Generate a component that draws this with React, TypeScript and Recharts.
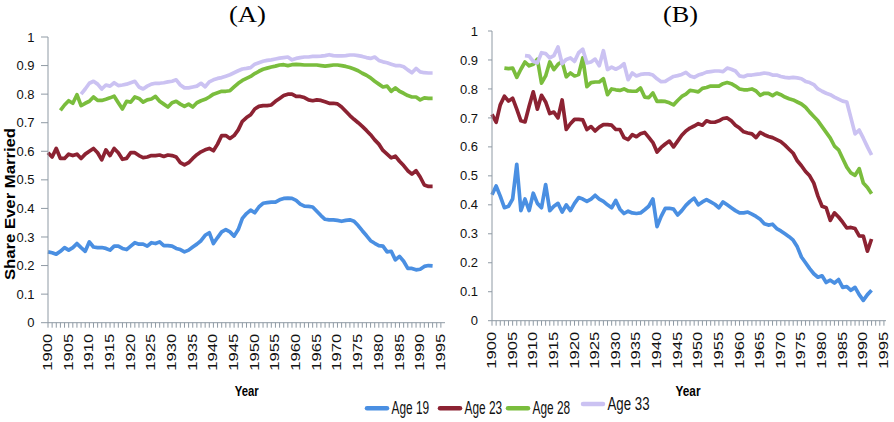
import { LineChart, Line, XAxis, YAxis } from "recharts";

// Cohort years (categories) – panel A runs to 1993, panel B to 1992
const YEARS_A = Array.from({ length: 94 }, (_, i) => 1900 + i);
const YEARS_B = Array.from({ length: 93 }, (_, i) => 1900 + i);

const X_TICKS = Array.from({ length: 96 }, (_, i) => 1900 + i);
const Y_TICKS = [0, 0.1, 0.2, 0.3, 0.4, 0.5, 0.6, 0.7, 0.8, 0.9, 1];

// Panel (A)
const A_AGE19 = [
  0.248, 0.245, 0.24, 0.25, 0.263, 0.254, 0.263, 0.277, 0.263, 0.25,
  0.283, 0.265, 0.263, 0.263, 0.26, 0.254, 0.268, 0.268, 0.26, 0.256,
  0.268, 0.28, 0.275, 0.275, 0.268, 0.28, 0.277, 0.283, 0.27, 0.27,
  0.268, 0.26, 0.256, 0.248, 0.254, 0.265, 0.275, 0.287, 0.306, 0.315,
  0.277, 0.298, 0.318, 0.326, 0.318, 0.303, 0.326, 0.365, 0.382, 0.394,
  0.385, 0.405, 0.418, 0.42, 0.422, 0.422, 0.43, 0.435, 0.436, 0.435,
  0.428, 0.415, 0.408, 0.407, 0.405, 0.39, 0.375, 0.362, 0.36, 0.36,
  0.358, 0.355, 0.358, 0.36, 0.355, 0.34, 0.322, 0.305, 0.287, 0.278,
  0.27, 0.268, 0.248, 0.25, 0.22, 0.232, 0.215, 0.19, 0.19, 0.185,
  0.187, 0.197, 0.2, 0.199,
];
const A_AGE23 = [
  0.595, 0.58, 0.61, 0.575, 0.575, 0.59, 0.585, 0.59, 0.575, 0.59,
  0.6, 0.61, 0.595, 0.57, 0.605, 0.585, 0.61, 0.595, 0.572, 0.575,
  0.595, 0.595, 0.585, 0.578, 0.58, 0.585, 0.585, 0.587, 0.582, 0.587,
  0.585, 0.58, 0.56, 0.552, 0.56, 0.575, 0.588, 0.598, 0.605, 0.61,
  0.602, 0.625, 0.655, 0.655, 0.645, 0.655, 0.675, 0.705, 0.718, 0.728,
  0.748, 0.757, 0.76, 0.76, 0.762, 0.775, 0.785, 0.795, 0.8, 0.8,
  0.792, 0.792, 0.788, 0.78, 0.777, 0.78, 0.778, 0.773, 0.768, 0.768,
  0.766, 0.755, 0.74, 0.725, 0.712, 0.7, 0.687, 0.673, 0.658, 0.64,
  0.625, 0.603, 0.59, 0.577, 0.583, 0.565, 0.55, 0.532, 0.52, 0.532,
  0.51, 0.482, 0.477, 0.477,
];
const A_AGE28 = [
  null, null, null, 0.743, 0.762, 0.777, 0.768, 0.798, 0.76, 0.768,
  0.775, 0.79, 0.778, 0.778, 0.782, 0.787, 0.793, 0.77, 0.748, 0.775,
  0.772, 0.79, 0.785, 0.772, 0.78, 0.783, 0.792, 0.775, 0.765, 0.755,
  0.77, 0.775, 0.765, 0.757, 0.765, 0.755, 0.77, 0.777, 0.782, 0.79,
  0.8, 0.805, 0.81, 0.81, 0.812, 0.825, 0.838, 0.848, 0.855, 0.862,
  0.872, 0.88, 0.887, 0.891, 0.895, 0.898, 0.902, 0.903, 0.9, 0.903,
  0.904, 0.903, 0.902, 0.902, 0.902, 0.902, 0.9, 0.898, 0.9, 0.902,
  0.902, 0.9, 0.897, 0.893, 0.888, 0.882, 0.873, 0.866, 0.857, 0.845,
  0.835, 0.825, 0.828, 0.81, 0.822, 0.81, 0.803, 0.795, 0.79, 0.79,
  0.78, 0.787, 0.785, 0.785,
];
const A_AGE33 = [
  null, null, null, null, null, null, null, null, 0.8, 0.818,
  0.838, 0.845, 0.835, 0.818, 0.832, 0.828, 0.84, 0.83, 0.832, 0.835,
  0.84, 0.845, 0.825, 0.818, 0.828, 0.835, 0.838, 0.838, 0.84, 0.843,
  0.845, 0.85, 0.832, 0.822, 0.822, 0.825, 0.828, 0.838, 0.826, 0.843,
  0.85, 0.855, 0.858, 0.863, 0.868, 0.875, 0.882, 0.888, 0.89, 0.893,
  0.905, 0.91, 0.915, 0.918, 0.92, 0.923, 0.926, 0.928, 0.93, 0.92,
  0.925, 0.928, 0.93, 0.93, 0.932, 0.932, 0.933, 0.935, 0.938, 0.935,
  0.934, 0.934, 0.935, 0.937, 0.937, 0.935, 0.932, 0.928, 0.925, 0.93,
  0.918, 0.913, 0.91, 0.905, 0.9, 0.9, 0.896, 0.885, 0.875, 0.89,
  0.878, 0.875, 0.874, 0.874,
];

// Panel (B)
const B_AGE19 = [
  0.435, 0.465, 0.43, 0.39, 0.395, 0.42, 0.54, 0.38, 0.42, 0.38,
  0.44, 0.405, 0.39, 0.47, 0.38, 0.395, 0.405, 0.375, 0.4, 0.38,
  0.405, 0.425, 0.42, 0.412, 0.42, 0.433, 0.42, 0.412, 0.4, 0.39,
  0.415, 0.385, 0.37, 0.378, 0.372, 0.37, 0.372, 0.383, 0.395, 0.42,
  0.325, 0.36, 0.388, 0.388, 0.385, 0.365, 0.38, 0.398, 0.412, 0.423,
  0.4, 0.41, 0.418, 0.41, 0.402, 0.39, 0.41, 0.4, 0.39, 0.38,
  0.372, 0.372, 0.375, 0.368, 0.36, 0.35, 0.335, 0.33, 0.333, 0.318,
  0.31, 0.3, 0.29, 0.278, 0.255, 0.22, 0.2, 0.18, 0.162, 0.15,
  0.155, 0.132, 0.14, 0.13, 0.142, 0.115, 0.118, 0.105, 0.115, 0.09,
  0.07, 0.09, 0.105,
];
const B_AGE23 = [
  0.712, 0.685, 0.745, 0.775, 0.758, 0.768, 0.73, 0.69, 0.686, 0.74,
  0.79, 0.73, 0.778, 0.755, 0.715, 0.72, 0.7, 0.762, 0.66, 0.68,
  0.695, 0.695, 0.693, 0.66, 0.67, 0.655, 0.668, 0.677, 0.677, 0.675,
  0.66, 0.66, 0.632, 0.625, 0.642, 0.635, 0.645, 0.65, 0.633, 0.615,
  0.582, 0.598, 0.61, 0.62, 0.6, 0.62, 0.64, 0.655, 0.665, 0.672,
  0.68, 0.675, 0.69, 0.685, 0.685, 0.69, 0.698, 0.7, 0.69, 0.675,
  0.665, 0.652, 0.648, 0.645, 0.632, 0.65, 0.642, 0.636, 0.632, 0.625,
  0.618, 0.606, 0.592, 0.578, 0.552, 0.535, 0.515, 0.5, 0.475, 0.43,
  0.395, 0.39, 0.346, 0.372, 0.358, 0.34, 0.32, 0.322, 0.318, 0.293,
  0.292, 0.24, 0.282,
];
const B_AGE28 = [
  null, null, null, 0.872, 0.87, 0.872, 0.84, 0.868, 0.893, 0.88,
  0.885, 0.903, 0.82, 0.845, 0.893, 0.867, 0.885, 0.895, 0.842, 0.855,
  0.845, 0.85, 0.907, 0.808, 0.822, 0.824, 0.824, 0.835, 0.78, 0.8,
  0.797, 0.795, 0.8, 0.793, 0.792, 0.792, 0.803, 0.772, 0.77, 0.786,
  0.757, 0.758, 0.757, 0.752, 0.745, 0.76, 0.774, 0.782, 0.795, 0.793,
  0.79, 0.802, 0.805, 0.81, 0.81, 0.81, 0.818, 0.822, 0.818, 0.81,
  0.8, 0.797, 0.797, 0.8, 0.793, 0.778, 0.785, 0.785, 0.777, 0.786,
  0.78, 0.772, 0.766, 0.762, 0.755, 0.748, 0.737, 0.72, 0.705, 0.69,
  0.67, 0.65, 0.63, 0.603, 0.59, 0.56, 0.53, 0.51, 0.502, 0.525,
  0.475, 0.46, 0.438,
];
const B_AGE33 = [
  null, null, null, null, null, null, null, null, 0.915, 0.913,
  0.895, 0.89, 0.925, 0.922, 0.907, 0.915, 0.945, 0.887, 0.902, 0.907,
  0.895, 0.925, 0.937, 0.89, 0.893, 0.903, 0.88, 0.932, 0.867, 0.875,
  0.868, 0.875, 0.887, 0.832, 0.855, 0.845, 0.85, 0.852, 0.852, 0.848,
  0.835, 0.825, 0.826, 0.835, 0.843, 0.846, 0.85, 0.857, 0.845, 0.84,
  0.848, 0.852, 0.858, 0.86, 0.862, 0.862, 0.86, 0.872, 0.868, 0.862,
  0.845, 0.842, 0.848, 0.848, 0.85, 0.852, 0.855, 0.853, 0.848, 0.848,
  0.843, 0.84, 0.838, 0.84, 0.838, 0.835, 0.826, 0.822, 0.815, 0.8,
  0.792, 0.785, 0.78, 0.772, 0.765, 0.758, 0.755, 0.7, 0.645, 0.658,
  0.63, 0.6, 0.572,
];

const SERIES = [
  { key: "age19", name: "Age 19", color: "#4a8fe2" },
  { key: "age23", name: "Age 23", color: "#8c2232" },
  { key: "age28", name: "Age 28", color: "#7abd3d" },
  { key: "age33", name: "Age 33", color: "#cbc2f2" },
];

const SANS = "'Liberation Sans', Arial, sans-serif";
const AXIS_GREY = "#8f9aa4";

function buildRows(years: number[], cols: (number | null)[][]) {
  return years.map((year, i) => ({
    year,
    age19: cols[0][i],
    age23: cols[1][i],
    age28: cols[2][i],
    age33: cols[3][i],
  }));
}

const DATA_A = buildRows(YEARS_A, [A_AGE19, A_AGE23, A_AGE28, A_AGE33]);
const DATA_B = buildRows(YEARS_B, [B_AGE19, B_AGE23, B_AGE28, B_AGE33]);

// every year gets a tick mark, only the 5-year ones get a (vertical) label
function YearTick(props: any) {
  const { x, y, payload } = props;
  if (payload.value % 5 !== 0) return <g />;
  return (
    <text
      x={0}
      y={0}
      transform={`translate(${x},${y + 4}) rotate(-90)`}
      textAnchor="end"
      dominantBaseline="central"
      fontSize={12}
      fontFamily={SANS}
      fill="#111"
      textLength={37}
      lengthAdjust="spacingAndGlyphs"
    >
      {payload.value}
    </text>
  );
}

function Panel({ data, domainMax, yWidth, yTickSize, yTickMargin, width, margin }: any) {
  return (
    <LineChart width={width} height={380} data={data} margin={margin}>
      <XAxis
        type="number"
        dataKey="year"
        domain={[1900, domainMax]}
        ticks={X_TICKS}
        interval={0}
        tick={<YearTick />}
        tickSize={5}
        tickMargin={2}
        height={50}
        stroke={AXIS_GREY}
        tickLine={{ stroke: AXIS_GREY }}
      />
      <YAxis
        type="number"
        domain={[0, 1]}
        ticks={Y_TICKS}
        interval={0}
        width={yWidth}
        tickSize={yTickSize}
        tickMargin={yTickMargin}
        tickFormatter={(v: number) => String(v)}
        tick={{ fontSize: 13, fill: "#111", fontFamily: SANS }}
        stroke={AXIS_GREY}
        tickLine={{ stroke: AXIS_GREY }}
      />
      {SERIES.map((s) => (
        <Line
          key={s.key}
          type="linear"
          dataKey={s.key}
          name={s.name}
          stroke={s.color}
          strokeWidth={3.7}
          strokeLinejoin="round"
          dot={false}
          activeDot={false}
          isAnimationActive={false}
        />
      ))}
    </LineChart>
  );
}

export default function App() {
  const legendX = [367, 440, 508, 583];
  return (
    <div
      style={{
        position: "absolute",
        left: 0,
        top: 0,
        width: 894,
        height: 422,
        background: "#fff",
        overflow: "hidden",
      }}
    >
      <div style={{ position: "absolute", left: 0, top: 0 }}>
        <Panel
          data={DATA_A}
          domainMax={1996}
          width={460}
          yWidth={48}
          yTickSize={7}
          yTickMargin={6.5}
          margin={{ top: 37, right: 15, bottom: 7.3, left: 0 }}
        />
      </div>
      <div style={{ position: "absolute", left: 440, top: 0 }}>
        <Panel
          data={DATA_B}
          domainMax={1995.5}
          width={454}
          yWidth={52}
          yTickSize={4}
          yTickMargin={10}
          margin={{ top: 31, right: 8, bottom: 9.3, left: 0 }}
        />
      </div>

      <svg
        width={894}
        height={422}
        style={{ position: "absolute", left: 0, top: 0, pointerEvents: "none" }}
      >
        <text x={247.5} y={21.5} textAnchor="middle" fontFamily="'Liberation Serif', 'Times New Roman', serif" fontSize={23} textLength={37} lengthAdjust="spacingAndGlyphs" fill="#000">
          (A)
        </text>
        <text x={680.5} y={21.5} textAnchor="middle" fontFamily="'Liberation Serif', 'Times New Roman', serif" fontSize={23} textLength={35} lengthAdjust="spacingAndGlyphs" fill="#000">
          (B)
        </text>

        <text
          transform="translate(9.5,204) rotate(-90)"
          textAnchor="middle"
          dominantBaseline="central"
          fontFamily={SANS}
          fontWeight="bold"
          fontSize={15.5}
          textLength={152}
          lengthAdjust="spacingAndGlyphs"
          fill="#000"
        >
          Share Ever Married
        </text>

        <text x={246.7} y={396} textAnchor="middle" fontFamily={SANS} fontWeight="bold" fontSize={15} textLength={24} lengthAdjust="spacingAndGlyphs" fill="#000">
          Year
        </text>
        <text x={688} y={396} textAnchor="middle" fontFamily={SANS} fontWeight="bold" fontSize={15} textLength={25} lengthAdjust="spacingAndGlyphs" fill="#000">
          Year
        </text>

        {SERIES.map((s, i) => {
          const lx = legendX[i];
          const ly = i === 3 ? 404 : 408.3;
          return (
            <g key={s.key}>
              <line x1={lx} x2={lx + 20} y1={ly} y2={ly} stroke={s.color} strokeWidth={4.5} strokeLinecap="round" />
              <text
                x={lx + 24.5}
                y={ly + 5.8}
                fontFamily={SANS}
                fontSize={17.5}
                textLength={i === 3 ? 42 : 37.6}
                lengthAdjust="spacingAndGlyphs"
                fill="#111"
              >
                {s.name}
              </text>
            </g>
          );
        })}
      </svg>
    </div>
  );
}
